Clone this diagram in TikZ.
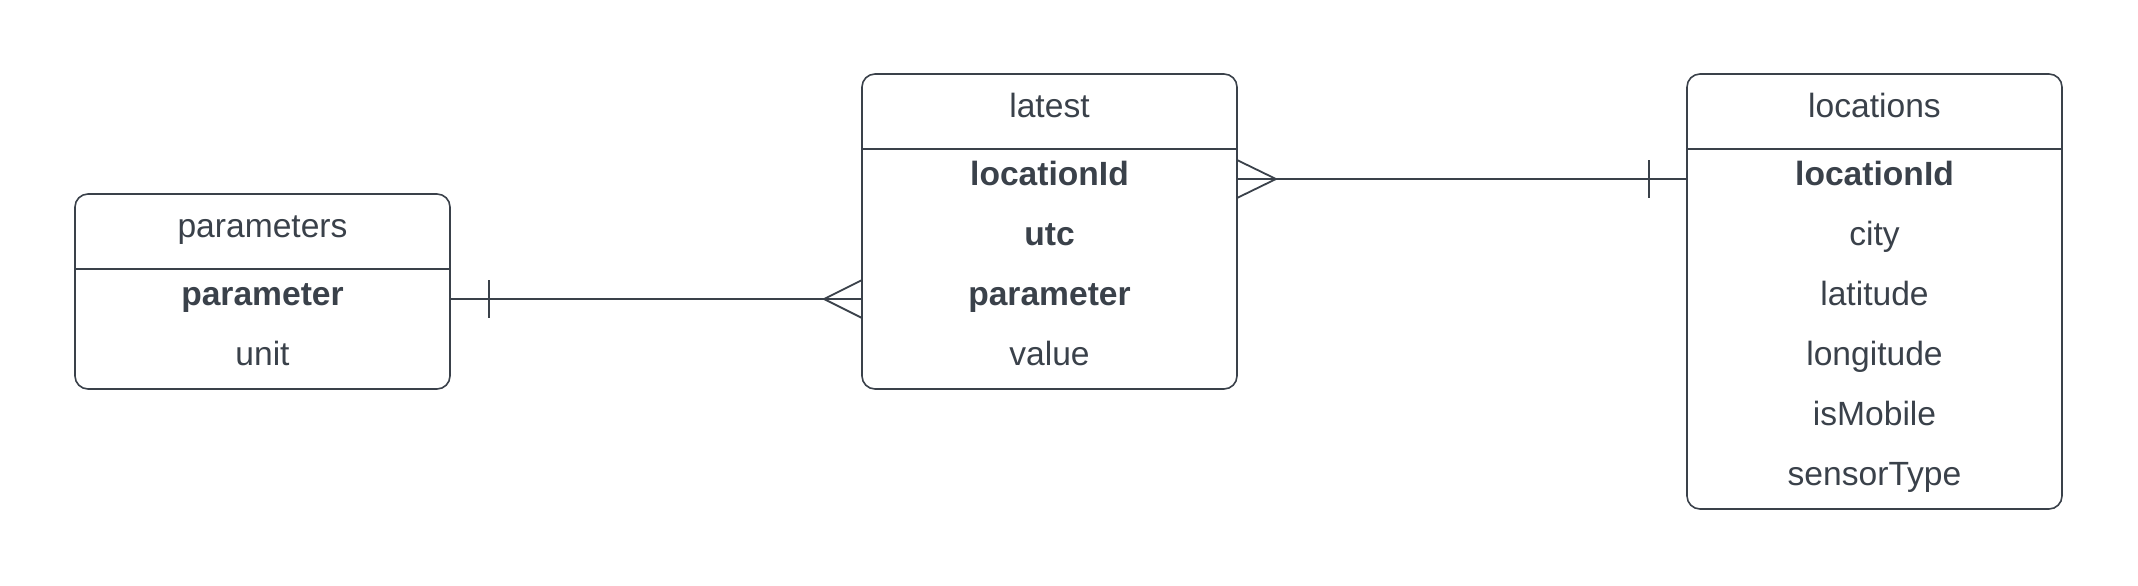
\documentclass[tikz,border=0pt]{standalone}
\usepackage{fontspec}
\setmainfont{Liberation Sans}
\usepackage{tikz}
\usetikzlibrary{positioning}
\definecolor{ink}{HTML}{3A414A}
\tikzset{
	title/.style={minimum width=187.5pt,minimum height=37.5pt,inner sep=0pt,outer sep=0pt,text=ink,
		text height=0.75em,text depth=0.15em,font=\fontsize{16.8}{20}\selectfont},
	field/.style={title,minimum height=30pt},
	key/.style={field,font=\fontsize{16.8}{20}\selectfont\bfseries},
	frame/.style={draw=ink,line width=0.8pt,rounded corners=6.5pt},
	wire/.style={draw=ink,line width=0.9pt}
}

\begin{document}
\begin{tikzpicture}[x=0.5pt,y=-0.5pt]
			\useasboundingbox (0,0) rectangle (2138,585);
			% parameters
			\node[title,anchor=north west] (parameters) at (75,194) {parameters};
			\node[key,below=0pt of parameters] (parameters-parameter) {parameter};
			\node[field,below=0pt of parameters-parameter] (parameters-unit) {unit};
			\draw[frame] (parameters.north west) rectangle (parameters-unit.south east);
			\draw[wire,line width=0.8pt] (parameters.south west) -- (parameters.south east);
			% latest
			\node[title,anchor=north west] (latest) at (862,74) {latest};
			\node[key,below=0pt of latest] (latest-locationId) {locationId};
			\node[key,below=0pt of latest-locationId] (latest-utc) {utc};
			\node[key,below=0pt of latest-utc] (latest-parameter) {parameter};
			\node[field,below=0pt of latest-parameter] (latest-value) {value};
			\draw[frame] (latest.north west) rectangle (latest-value.south east);
			\draw[wire,line width=0.8pt] (latest.south west) -- (latest.south east);
			% locations
			\node[title,anchor=north west] (locations) at (1687,74) {locations};
			\node[key,below=0pt of locations] (locations-locationId) {locationId};
			\node[field,below=0pt of locations-locationId] (locations-city) {city};
			\node[field,below=0pt of locations-city] (locations-latitude) {latitude};
			\node[field,below=0pt of locations-latitude] (locations-longitude) {longitude};
			\node[field,below=0pt of locations-longitude] (locations-isMobile) {isMobile};
			\node[field,below=0pt of locations-isMobile] (locations-sensorType) {sensorType};
			\draw[frame] (locations.north west) rectangle (locations-sensorType.south east);
			\draw[wire,line width=0.8pt] (locations.south west) -- (locations.south east);
			% parameters -- latest (one to many)
			\draw[wire] (parameters-parameter.east) -- (latest-parameter.west);
			\draw[wire] (parameters-parameter.east) ++(39,-19) -- ++(0,38);
			\draw[wire] (latest-parameter.west) ++(0,-19) -- ++(-38,19) -- ++(38,19);
			% latest -- locations (many to one)
			\draw[wire] (latest-locationId.east) -- (locations-locationId.west);
			\draw[wire] (latest-locationId.east) ++(0,-19) -- ++(39,19) -- ++(-39,19);
			\draw[wire] (locations-locationId.west) ++(-38,-19) -- ++(0,38);
		\end{tikzpicture}
\end{document}
